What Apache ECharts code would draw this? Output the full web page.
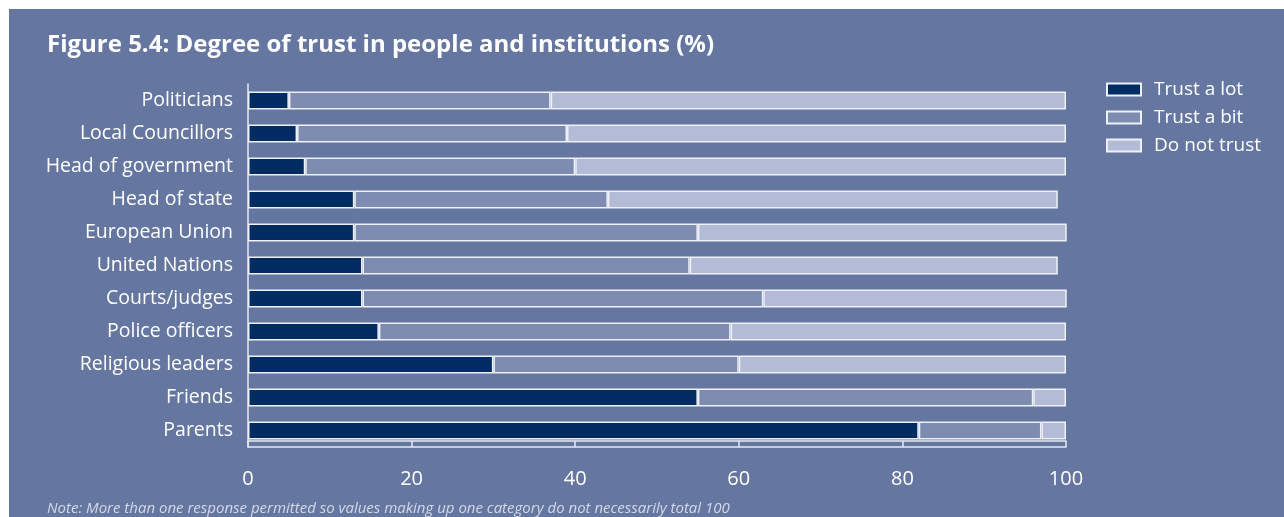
<!DOCTYPE html>
<html>
<head>
<meta charset="utf-8">
<title>Degree of trust in people and institutions</title>
<script src="https://cdn.jsdelivr.net/npm/echarts@6/dist/echarts.min.js"></script>
<style>
  html, body { margin: 0; padding: 0; background: #ffffff; }
  #chart { position: absolute; left: 9px; top: 9px; width: 1275px; height: 508px; background: #6577a1; }
</style>
</head>
<body>
<div id="chart"></div>
<script>
// categories, top to bottom as in the figure
const categories = [
  'Politicians', 'Local Councillors', 'Head of government', 'Head of state',
  'European Union', 'United Nations', 'Courts/judges', 'Police officers',
  'Religious leaders', 'Friends', 'Parents'
]
// values (%)
const trustLot = [5, 6, 7, 13, 13, 14, 14, 16, 30, 55, 82]
const trustBit = [32, 33, 33, 31, 42, 40, 49, 43, 30, 41, 15]
const notTrust = [63, 61, 60, 55, 46, 45, 38, 41, 40, 4, 3]
const xTicks = [0, 20, 40, 60, 80, 100]

const FONT = '"Open Sans", "Noto Sans", sans-serif'
const chart = echarts.init(document.getElementById('chart'))

// category axis runs bottom-up, so reverse everything
const cats = categories.slice().reverse()
const mk = (name, data, color) => ({
  name: name,
  type: 'bar',
  stack: 'total',
  data: data.slice().reverse(),
  barWidth: 18,
  itemStyle: { color: color, borderColor: '#eef1f8', borderWidth: 1.5 },
  emphasis: { disabled: true }
})

const option = {
  animation: false,
  textStyle: { fontFamily: FONT },
  title: {
    text: 'Figure 5.4: Degree of trust in people and institutions (%)',
    left: 33,
    top: 19,
    textStyle: { color: '#ffffff', fontSize: 24, fontWeight: 'bold', fontFamily: FONT }
  },
  legend: {
    orient: 'vertical',
    left: 1092,
    top: 65,
    itemWidth: 34,
    itemHeight: 12,
    itemGap: 7,
    icon: 'rect',
    textStyle: { color: '#ffffff', fontSize: 19, lineHeight: 21, padding: [0, 0, 0, 8], fontFamily: FONT },
    data: ['Trust a lot', 'Trust a bit', 'Do not trust']
  },
  grid: { left: 239, right: 218, top: 75, bottom: 70, containLabel: false },
  xAxis: [
    {
      type: 'value',
      min: 0,
      max: 100,
      interval: 20,
      axisLine: { show: true, lineStyle: { color: '#e6eaf3', width: 1.5 } },
      axisTick: { show: true, inside: true, length: 6, lineStyle: { color: '#e6eaf3', width: 1.5 } },
      splitLine: { show: false },
      axisLabel: {
        color: '#ffffff', fontSize: 20, margin: 22,
        formatter: (v) => (xTicks.indexOf(v) >= 0 ? String(v) : '')
      }
    },
    {
      type: 'value',
      position: 'bottom',
      offset: -6,
      min: 0,
      max: 100,
      axisLine: { show: true, lineStyle: { color: '#e6eaf3', width: 1.5 } },
      axisTick: { show: false },
      axisLabel: { show: false },
      splitLine: { show: false }
    }
  ],
  yAxis: {
    type: 'category',
    data: cats,
    axisLine: { show: true, lineStyle: { color: '#e6eaf3', width: 1.5 } },
    axisTick: { show: false },
    axisLabel: { color: '#ffffff', fontSize: 19.5, margin: 15 }
  },
  series: [
    mk('Trust a lot', trustLot, '#002c61'),
    mk('Trust a bit', trustBit, '#7e8cb1'),
    mk('Do not trust', notTrust, '#b3bbd6')
  ],
  graphic: [
    {
      type: 'text',
      left: 38,
      top: 492,
      style: {
        text: 'Note: More than one response permitted so values making up one category do not necessarily total 100',
        fill: '#d3d9e8',
        font: 'italic 15px ' + FONT
      }
    }
  ]
}
chart.setOption(option)
</script>
</body>
</html>
